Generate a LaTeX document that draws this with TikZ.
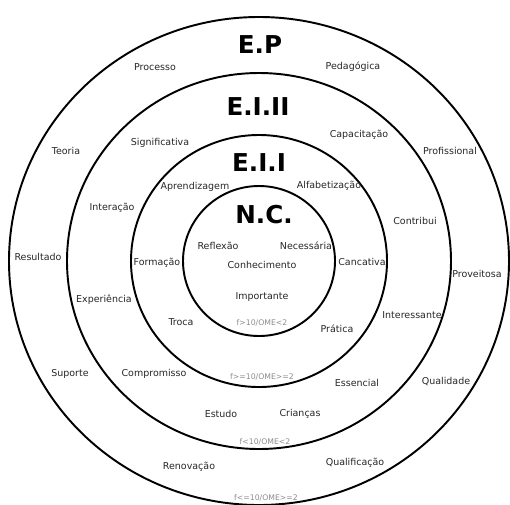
\documentclass[tikz,border=0pt]{standalone}
\usepackage{fontspec}
\setmainfont{DejaVu Sans}
\usepackage{tikz}
\usetikzlibrary{positioning}
\tikzset{
  ring/.style={line width=1.1pt, draw=black},
  word/.style={inner sep=0pt, font=\fontsize{5.4}{6}\selectfont, text=black!85},
  limit/.style={inner sep=0pt, font=\fontsize{4.4}{5}\selectfont, text=black!45},
  level/.style={inner sep=0pt, font=\fontsize{14}{16}\selectfont\bfseries}
}

\begin{document}
\begin{tikzpicture}[x=0.02cm, y=-0.02cm]
  \useasboundingbox (0,0) rectangle (510,504);
  % rings
  \foreach \rx/\ry in {76/75, 128/126, 192/188, 250/244} {
    \draw[ring] (259,261) ellipse [x radius=\rx, y radius=\ry];
  }

  % ring titles
  \node[level] (ep)   at (260,45)  {E.P};
  \node[level] (eiii) at (258,107) {E.I.II};
  \node[level] (eii)  at (259,163) {E.I.I};
  \node[level] (nc)   at (264,215) {N.C.};

  % words
  \foreach \n/\x/\y/\t in {proc/155/67/Processo, peda/353/67/Pedagógica,
      teor/66/151/Teoria, prof/450/151/Profissional,
      sign/160/143/Significativa, capa/359/135/Capacitação,
      apre/195/187/Aprendizagem, alfa/329/186/Alfabetização,
      inte/112/208/Interação, cont/415/221/Contribui,
      refl/218/246/Reflexão, nece/306/246/Necessária,
      resu/38/257/Resultado, form/157/263/Formação,
      conh/262/265/Conhecimento, canc/362/262/Cancativa,
      prov/477/274/Proveitosa, expe/104/300/Experiência,
      impo/262/297/Importante, intr/412/315/Interessante,
      troc/181/322/Troca, prat/337/329/Prática,
      supo/70/374/Suporte, comp/154/374/Compromisso,
      esse/357/383/Essencial, qual/446/381/Qualidade,
      estu/221/414/Estudo, cria/300/414/Crianças,
      reno/189/467/Renovação, quli/355/463/Qualificação} {
    \node[word] (\n) at (\x,\y) {\t};
  }

  % frequency limits
  \node[limit] (lim1) at (262,323) {f>10/OME<2};
  \node[limit] (lim2) at (262,377) {f>=10/OME>=2};
  \node[limit] (lim3) at (265,442) {f<10/OME<2};
  \node[limit] (lim4) at (266,498) {f<=10/OME>=2};
\end{tikzpicture}
\end{document}
